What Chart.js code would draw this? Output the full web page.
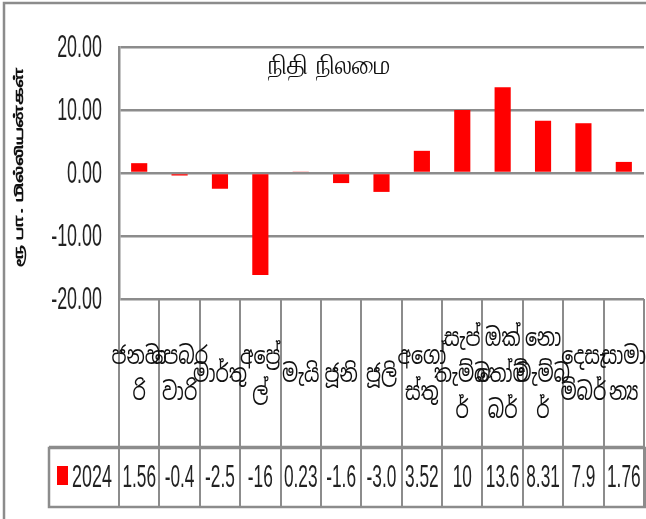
<!DOCTYPE html>
<html lang="si">
<head>
    <meta charset="UTF-8">
    <title>நிதி நிலமை</title>
    <style>
        html, body {
            margin: 0;
            padding: 0;
            background: #fff;
        }
        #wrap {
            width: 646px;
            height: 519px;
            position: relative;
        }
    </style>
</head>
<body>
<div id="wrap"><canvas id="chart"></canvas></div>

<script src="https://cdn.jsdelivr.net/npm/chart.js@4/dist/chart.umd.min.js"></script>
<script>
    // month names as they wrap in the table cells
    var months = [
        ['ජනවා', 'රි'],
        ['පෙබර', 'වාරි'],
        ['මාර්තු'],
        ['අප්‍රේ', 'ල්'],
        ['මැයි'],
        ['ජූනි'],
        ['ජූලි'],
        ['අගෝ', 'ස්තු'],
        ['සැප්', 'තැම්බ', 'ර්'],
        ['ඔක්', 'තෝම්', 'බර්'],
        ['නො', 'වැම්බ', 'ර්'],
        ['දෙසැ', 'ම්බර්'],
        ['සාමා', 'න්‍ය']
    ];
    var seriesName = '2024';
    var values2024 = [1.56, -0.4, -2.5, -16.2, 0.23, -1.6, -3.0, 3.52, 10.0, 13.6, 8.31, 7.9, 1.76];
    // what the data table shows (cells are narrow, so some are cut short)
    var tableText = ['1.56', '-0.4', '-2.5', '-16', '0.23', '-1.6', '-3.0', '3.52', '10', '13.6', '8.31', '7.9', '1.76'];
    var yTicks = [-20, -10, 0, 10, 20];

    var chartTitle = 'நிதி நிலமை';
    var yTitle = 'ரூ பா. மில்லியன்கள்';

    var FONT = '"Liberation Sans", "Noto Sans", sans-serif';
    var GRID = '#8c8c8c';

    // the original text is tall and narrow, so draw it squeezed
    function stretchText(ctx, t, x, y, sx, sy) {
        ctx.save();
        ctx.translate(x, y);
        ctx.scale(sx, sy);
        ctx.fillText(t, 0, 0);
        ctx.restore();
    }

    var tablePlugin = {
        id: 'dataTable',
        beforeDraw: function (chart) {
            var ctx = chart.ctx;
            ctx.save();
            ctx.strokeStyle = GRID;
            ctx.lineWidth = 2.5;
            ctx.beginPath();
            ctx.moveTo(4, 530);
            ctx.lineTo(4, 3);
            ctx.lineTo(650, 3);
            ctx.stroke();
            ctx.restore();
        },
        afterDraw: function (chart) {
            var ctx = chart.ctx;
            var area = chart.chartArea;
            var x = chart.scales.x;
            var y = chart.scales.y;
            var n = months.length;
            var w = (area.right - area.left) / n;
            var rowTop = area.bottom;
            var rowBottom = 447;
            var legTop = 448;
            var legBottom = 507;
            var legLeft = 49;

            ctx.save();

            // y tick labels
            ctx.fillStyle = '#222';
            ctx.font = '32px ' + FONT;
            ctx.textAlign = 'right';
            ctx.textBaseline = 'middle';
            yTicks.forEach(function (v) {
                stretchText(ctx, v.toFixed(2), 102, y.getPixelForValue(v) + 1, 0.56, 1);
            });

            // y title, rotated
            ctx.save();
            ctx.translate(19, 167);
            ctx.rotate(-Math.PI / 2);
            ctx.font = 'bold 13px "Noto Sans", ' + FONT;
            ctx.fillStyle = '#111';
            ctx.textAlign = 'center';
            stretchText(ctx, yTitle, 0, 0, 1.9, 1);
            ctx.restore();

            ctx.strokeStyle = GRID;
            ctx.lineWidth = 2;
            // category row lines
            for (var i = 0; i <= n; i++) {
                var bx = Math.round(x.getPixelForValue(0) - w / 2 + i * w);
                ctx.beginPath();
                ctx.moveTo(bx, rowTop);
                ctx.lineTo(bx, legBottom);
                ctx.stroke();
            }
            // legend row frame
            ctx.lineWidth = 2.5;
            ctx.strokeRect(legLeft, legTop, area.right + 1 - legLeft, legBottom - legTop);
            ctx.beginPath();
            ctx.moveTo(legLeft, rowBottom);
            ctx.lineTo(area.right + 1, rowBottom);
            ctx.stroke();

            // month labels, centred in their cells
            ctx.fillStyle = '#111';
            ctx.textAlign = 'center';
            ctx.textBaseline = 'middle';
            ctx.font = '19px "Noto Sans", "Noto Sans Sinhala", ' + FONT;
            var lh = 36;
            var midY = (rowTop + rowBottom) / 2 + 2;
            months.forEach(function (lines, i) {
                var cx = x.getPixelForValue(i);
                var y0 = midY - (lines.length - 1) * lh / 2;
                lines.forEach(function (t, k) {
                    stretchText(ctx, t, cx, y0 + k * lh, 1, 1.3);
                });
            });

            // legend key and values
            var vy = (legTop + legBottom) / 2 + 1;
            ctx.fillStyle = '#ff0000';
            ctx.fillRect(57, 466, 11, 19);
            ctx.fillStyle = '#222';
            ctx.font = '32px ' + FONT;
            ctx.textAlign = 'left';
            stretchText(ctx, seriesName, 72, vy, 0.56, 1);
            ctx.textAlign = 'center';
            tableText.forEach(function (t, i) {
                stretchText(ctx, t, x.getPixelForValue(i), vy, 0.54, 1);
            });

            // title sits inside the plot
            ctx.font = '22px "Noto Sans", ' + FONT;
            ctx.fillStyle = '#111';
            stretchText(ctx, chartTitle, 329, 66, 1.15, 1.3);
            ctx.restore();
        }
    };

    new Chart(document.getElementById('chart'), {
        type: 'bar',
        data: {
            labels: months,
            datasets: [{
                label: seriesName,
                data: values2024,
                backgroundColor: '#ff0000',
                borderWidth: 0,
                barPercentage: 0.4,
                categoryPercentage: 1
            }]
        },
        options: {
            responsive: true,
            maintainAspectRatio: false,
            animation: false,
            layout: {
                padding: { left: 0, top: 47, right: 2, bottom: 220 }
            },
            plugins: {
                legend: { display: false },
                tooltip: { enabled: false },
                title: { display: false }
            },
            scales: {
                x: {
                    display: false
                },
                y: {
                    min: -20,
                    max: 20,
                    afterFit: function (scale) { scale.width = 119; },
                    afterBuildTicks: function (scale) {
                        scale.ticks = yTicks.map(function (v) { return { value: v }; });
                    },
                    border: { color: GRID, width: 2.5 },
                    grid: { color: GRID, lineWidth: 2.5, drawTicks: false },
                    ticks: { display: false },
                    title: { display: false }
                }
            }
        },
        plugins: [tablePlugin]
    });
</script>
</body>
</html>
